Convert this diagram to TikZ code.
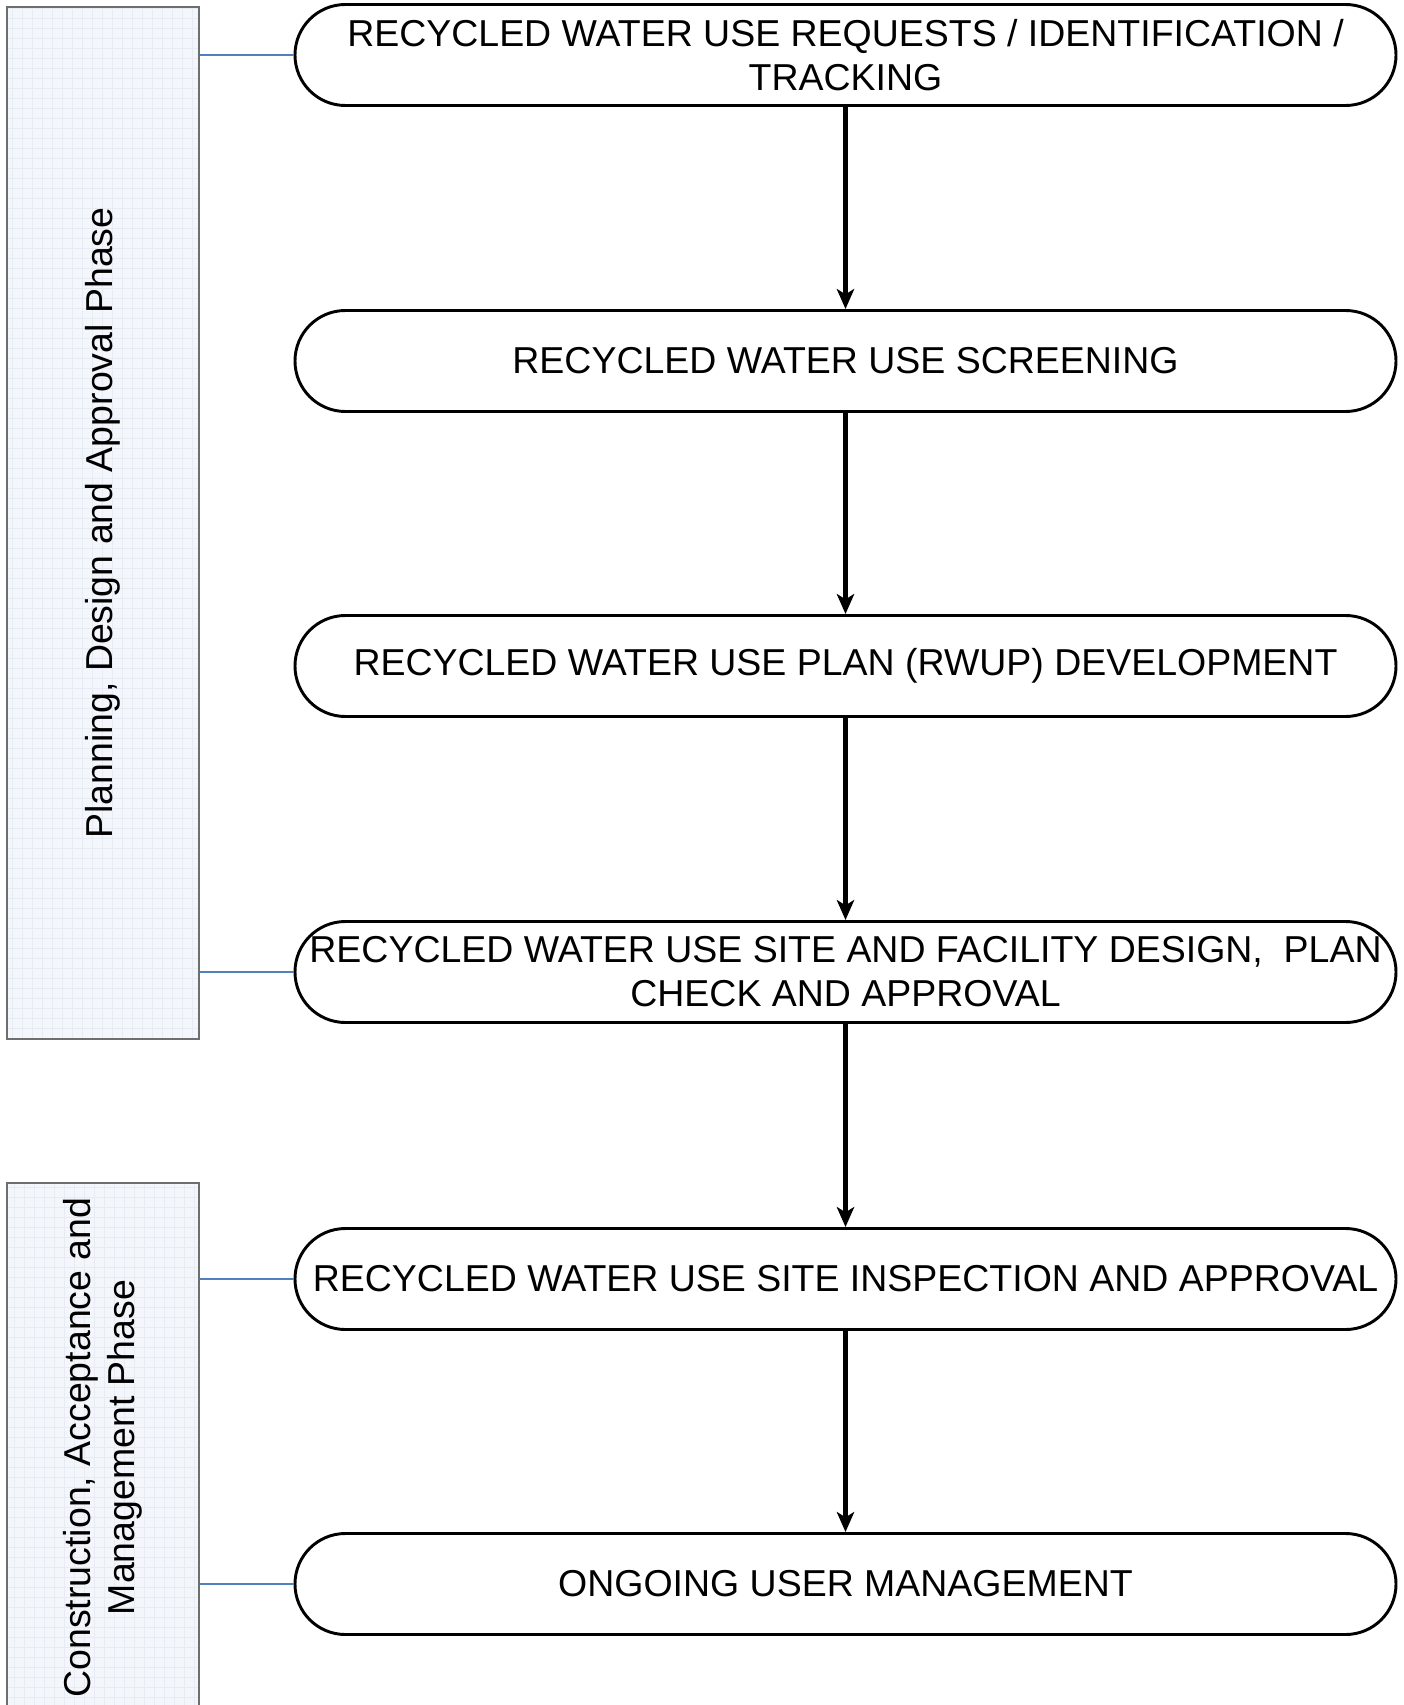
\documentclass[tikz,border=0pt]{standalone}
\usepackage{fontspec}
\setmainfont{Liberation Sans}
\usetikzlibrary{arrows.meta,positioning}
\definecolor{phaseFill}{HTML}{F3F6FB}
\definecolor{phaseGrid}{HTML}{E7ECF4}
\definecolor{phaseEdge}{HTML}{6E6E6E}
\definecolor{linkBlue}{HTML}{4F81BD}
\newcommand{\FigBody}{\fontsize{28.1}{33}\selectfont}

\begin{document}
\begin{tikzpicture}[
  x=0.75pt, y=-0.75pt,
  font=\FigBody,
  stage/.style = {draw=black, line width=2.2pt, rounded corners=37.8pt, minimum width=825.75pt,
                  minimum height=75.75pt, inner sep=0pt, align=center},
  phase/.style = {draw=phaseEdge, line width=1.2pt, fill=phaseFill, rotate=90, minimum height=144pt,
                  inner sep=0pt, align=center,
                  path picture={\draw[phaseGrid, line width=0.5pt, step=7.5pt]
                    (path picture bounding box.south west) grid (path picture bounding box.north east);}},
  flow/.style  = {-{Stealth[length=15pt, width=13pt, inset=4pt]}, draw=black, line width=4.1pt},
  link/.style  = {draw=linkBlue, line width=0.9pt},
]
\clip (0,0) rectangle (1403,1705);

% ---------------------------------------------------------------- phases
\node[phase, minimum width=774pt]    (ph1) at (103,523)    {Planning, Design and Approval Phase};
\node[phase, minimum width=396.75pt] (ph2) at (103,1447.5) {Construction, Acceptance and\\Management Phase};

% ---------------------------------------------------------------- stages
\node[stage] (st1) at (845.5,55)   {RECYCLED WATER USE REQUESTS / IDENTIFICATION /\\TRACKING};
\node[stage] (st2) at (845.5,361)  {RECYCLED WATER USE SCREENING};
\node[stage] (st3) at (845.5,666)  {RECYCLED WATER USE PLAN (RWUP) DEVELOPMENT};
\node[stage] (st4) at (845.5,972)  {RECYCLED WATER USE SITE AND FACILITY DESIGN,~~PLAN\\CHECK AND APPROVAL};
\node[stage] (st5) at (845.5,1279) {RECYCLED WATER USE SITE INSPECTION AND APPROVAL};
\node[stage] (st6) at (845.5,1584) {ONGOING USER MANAGEMENT};

\foreach \a/\b in {st1/st2, st2/st3, st3/st4, st4/st5, st5/st6}
  \draw[flow] (\a) -- (\b);

% phase brackets
\draw[link] (ph1.south |- st1) -- (st1.west);
\draw[link] (ph1.south |- st4) -- (st4.west);
\draw[link] (ph2.south |- st5) -- (st5.west);
\draw[link] (ph2.south |- st6) -- (st6.west);
\end{tikzpicture}
\end{document}
